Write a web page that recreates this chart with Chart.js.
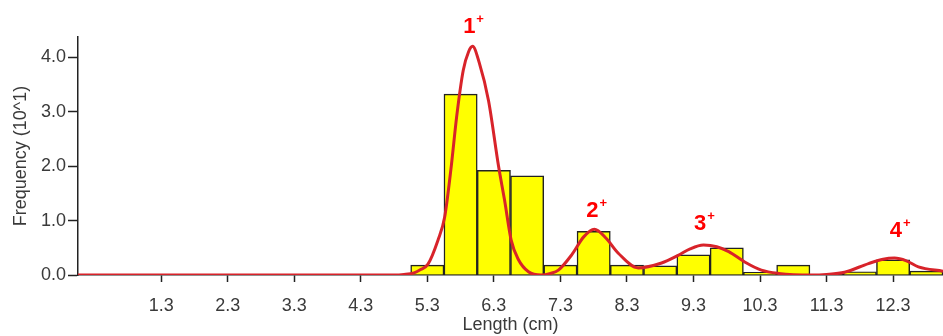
<!DOCTYPE html>
<html>
<head>
<meta charset="utf-8">
<script src="https://cdn.jsdelivr.net/npm/chart.js@4.4.1/dist/chart.umd.min.js"></script>
<style>
  html, body { margin: 0; padding: 0; background: #fff; }
  #lfq { display: block; }
</style>
</head>
<body>
<canvas id="lfq" width="943" height="336"></canvas>
<script>
// Length classes (cm, bin centres, 0.5 cm wide) and observed frequency (x10^1)
const binCentres = [0.3, 0.8, 1.3, 1.8, 2.3, 2.8, 3.3, 3.8, 4.3, 4.8,
  5.3, 5.8, 6.3, 6.8, 7.3, 7.8, 8.3, 8.8, 9.3, 9.8, 10.3, 10.8, 11.3, 11.8, 12.3, 12.8];
const binFreq = [0, 0, 0, 0, 0, 0, 0, 0, 0, 0,
  0.18, 3.32, 1.92, 1.82, 0.18, 0.8, 0.18, 0.17, 0.37, 0.5, 0.05, 0.18, 0.01, 0.06, 0.28, 0.07];

// Fitted curve (length, frequency)
const curveLength = [0.05, 4.8, 4.95, 5.1, 5.2, 5.31, 5.46, 5.56, 5.66, 5.74, 5.84, 5.92, 5.98,
  6.08, 6.22, 6.37, 6.46, 6.56, 6.67, 6.82, 7.01, 7.15, 7.27, 7.47, 7.65, 7.81, 7.99, 8.17,
  8.47, 8.82, 9.07, 9.25, 9.45, 9.65, 9.83, 10.07, 10.32, 10.58, 11.07, 11.3, 11.57, 11.93,
  12.15, 12.32, 12.5, 12.68, 13.05];
const curveFreq = [0, 0, 0.01, 0.04, 0.1, 0.2, 0.64, 1.06, 2.0, 2.9, 3.76, 4.1, 4.2,
  3.9, 3.2, 2.0, 1.38, 0.64, 0.28, 0.06, 0.0, 0.03, 0.09, 0.37, 0.7, 0.84, 0.67, 0.4,
  0.13, 0.22, 0.36, 0.48, 0.55, 0.52, 0.43, 0.24, 0.09, 0.03, 0.0, 0.01, 0.05, 0.21,
  0.29, 0.31, 0.26, 0.15, 0.07];

// Age group labels over the modes
const cohortNames = ['1', '2', '3', '4'];
const cohortAtLength = [5.93, 7.78, 9.4, 12.34];
const cohortAtFreq = [4.44, 1.06, 0.83, 0.7];

const xTicks = [1.3, 2.3, 3.3, 4.3, 5.3, 6.3, 7.3, 8.3, 9.3, 10.3, 11.3, 12.3];
const yTicks = [0, 1, 2, 3, 4];

const axisFont = { family: 'Liberation Sans, Arial, sans-serif', size: 18 };
const axisColor = '#3a3a3a';

const cohortLabels = {
  id: 'cohortLabels',
  afterDatasetsDraw(chart) {
    const { ctx, scales } = chart;
    ctx.save();
    ctx.fillStyle = '#ff0000';
    ctx.textBaseline = 'alphabetic';
    cohortNames.forEach((name, i) => {
      const px = scales.x.getPixelForValue(cohortAtLength[i]);
      const py = scales.y.getPixelForValue(cohortAtFreq[i]);
      ctx.font = 'bold 22px Liberation Sans, Arial, sans-serif';
      ctx.textAlign = 'center';
      ctx.fillText(name, px, py);
      const w = ctx.measureText(name).width;
      ctx.font = 'bold 13px Liberation Sans, Arial, sans-serif';
      ctx.textAlign = 'left';
      ctx.fillText('+', px + w / 2 + 1, py - 10);
    });
    ctx.restore();
  }
};

new Chart(document.getElementById('lfq'), {
  type: 'bar',
  data: {
    datasets: [
      {
        type: 'line',
        data: curveLength.map((x, i) => ({ x, y: curveFreq[i] })),
        borderColor: '#d8232a',
        borderWidth: 3,
        pointRadius: 0,
        cubicInterpolationMode: 'monotone',
        fill: false,
        order: 0
      },
      {
        type: 'bar',
        data: binCentres.map((x, i) => ({ x, y: binFreq[i] })),
        backgroundColor: '#ffff00',
        borderColor: '#222',
        borderWidth: 1.5,
        barPercentage: 1,
        categoryPercentage: 1,
        order: 1
      }
    ]
  },
  options: {
    responsive: false,
    animation: false,
    devicePixelRatio: 1,
    layout: { padding: { top: 37, right: 0, left: 0, bottom: 0 } },
    plugins: { legend: { display: false }, tooltip: { enabled: false } },
    scales: {
      x: {
        type: 'linear',
        min: 0.05,
        max: 13.05,
        offset: false,
        afterBuildTicks: s => { s.ticks = xTicks.map(v => ({ value: v })); },
        afterFit: s => { s.height = 61; },
        ticks: {
          callback: v => v.toFixed(1),
          font: axisFont,
          color: axisColor,
          padding: 13,
          maxRotation: 0,
          autoSkip: false
        },
        grid: { drawOnChartArea: false, offset: false, tickLength: 7, color: '#222', tickWidth: 1.5 },
        border: { display: true, color: '#222', width: 1.5 },
        title: { display: true, text: 'Length (cm)', font: axisFont, color: axisColor, padding: 0 }
      },
      y: {
        min: 0,
        max: 4.37,
        afterBuildTicks: s => { s.ticks = yTicks.map(v => ({ value: v })); },
        afterFit: s => { s.width = 78; },
        ticks: { callback: v => v.toFixed(1), font: axisFont, color: axisColor, padding: 2 },
        grid: { drawOnChartArea: false, tickLength: 10, color: '#222', tickWidth: 1.5 },
        border: { display: true, color: '#222', width: 1.5 },
        title: { display: true, text: 'Frequency (10^1)', font: axisFont, color: axisColor, padding: 10 }
      }
    }
  },
  plugins: [cohortLabels]
});
</script>
</body>
</html>
